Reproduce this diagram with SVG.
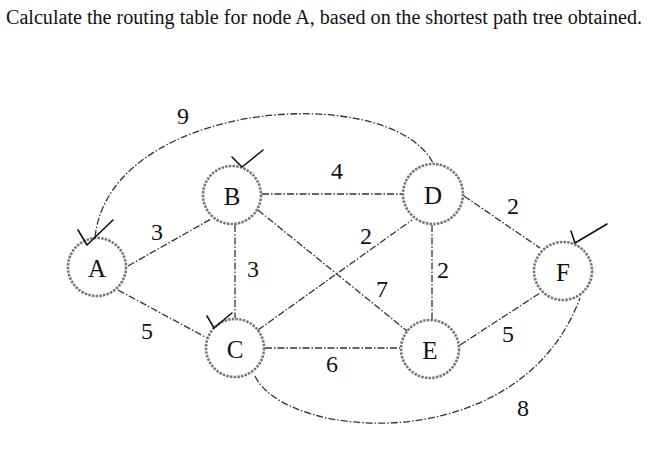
<svg xmlns="http://www.w3.org/2000/svg" width="650" height="449" viewBox="0 0 650 449">
<style>
.t{font-family:"Liberation Serif","Times New Roman",serif;fill:#111}
.nl{font-family:"Liberation Serif","Times New Roman",serif;font-size:25px;fill:#111;text-anchor:middle;dominant-baseline:central}
.el{font-family:"Liberation Serif","Times New Roman",serif;font-size:24px;fill:#111;text-anchor:middle;dominant-baseline:central}
.e{fill:none;stroke:#333;stroke-width:1.3;stroke-dasharray:7 2 1.5 2}
.c{fill:#fff;stroke:#777;stroke-width:2.6;stroke-dasharray:2.5 1.2}
.ck{fill:none;stroke:#111;stroke-width:1.6;stroke-linecap:round;stroke-linejoin:round}
</style>
<rect width="650" height="449" fill="#fff"/>
<text class="t" x="6" y="24" font-size="20" textLength="636" lengthAdjust="spacingAndGlyphs">Calculate the routing table for node A, based on the shortest path tree obtained.</text>
<g id="connectors">
<path class="e" d="M95,237 C110,100 390,80 433,163"/>
<path class="e" d="M128,266 L211,219"/>
<path class="e" d="M118,290 L207,338"/>
<path class="e" d="M235,225 L235,318"/>
<path class="e" d="M262,194 L402,194"/>
<path class="e" d="M258,210 L407,331"/>
<path class="e" d="M258,330 L412,220"/>
<path class="e" d="M432,225 L432,320"/>
<path class="e" d="M464,196 L540,248"/>
<path class="e" d="M460,345 L540,293"/>
<path class="e" d="M265,348 L400,348"/>
<path class="e" d="M255,376 C285,440 520,460 580,298"/>
<text class="el" x="183" y="116">9</text>
<text class="el" x="157" y="232">3</text>
<text class="el" x="337" y="171">4</text>
<text class="el" x="253" y="269">3</text>
<text class="el" x="366" y="236">2</text>
<text class="el" x="382" y="289">7</text>
<text class="el" x="443" y="270">2</text>
<text class="el" x="513" y="206">2</text>
<text class="el" x="147" y="331">5</text>
<text class="el" x="332" y="364">6</text>
<text class="el" x="508" y="334">5</text>
<text class="el" x="523" y="408">8</text>
</g>
<g id="node-A">
<circle class="c" cx="97" cy="267" r="29"/>
<text class="nl" x="97" y="268">A</text>
<path class="ck" d="M78,230 L87,245 L113,220"/>
</g>
<g id="node-B">
<circle class="c" cx="232" cy="195" r="29"/>
<text class="nl" x="232" y="196">B</text>
<path class="ck" d="M232,157 L242,167 L263,150"/>
</g>
<g id="node-C">
<circle class="c" cx="235" cy="348" r="29"/>
<text class="nl" x="235" y="349">C</text>
<path class="ck" d="M207,316 L214,328 L232,313"/>
</g>
<g id="node-D">
<circle class="c" cx="433" cy="194" r="30"/>
<text class="nl" x="433" y="195">D</text>
</g>
<g id="node-E">
<circle class="c" cx="430" cy="349" r="29"/>
<text class="nl" x="430" y="350">E</text>
</g>
<g id="node-F">
<circle class="c" cx="563" cy="271" r="29"/>
<text class="nl" x="563" y="272">F</text>
<path class="ck" d="M571,231 L575,243 L607,224"/>
</g>
</svg>
